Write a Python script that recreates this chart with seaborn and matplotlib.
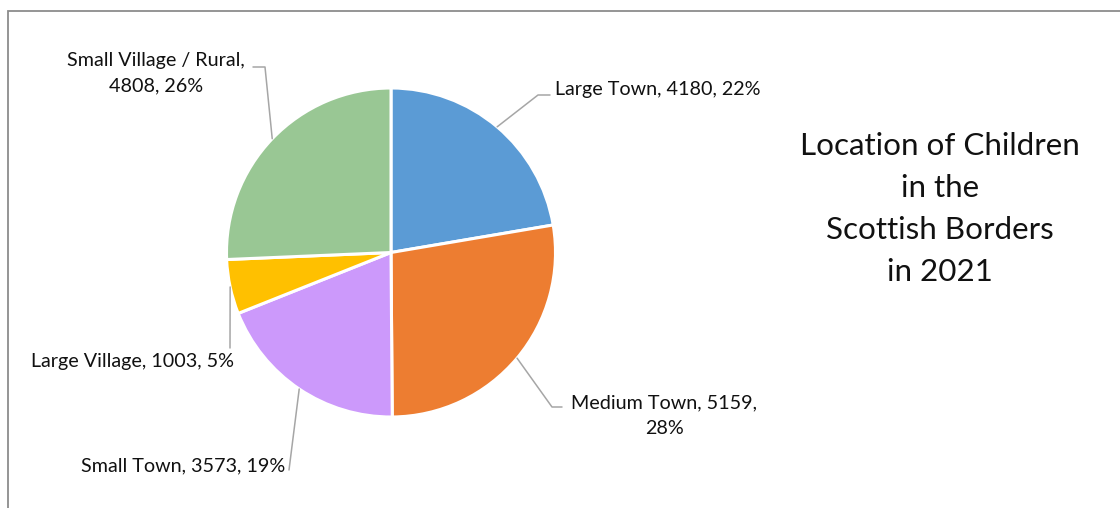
"""Location of children in the Scottish Borders, 2021 - pie chart with leader-line labels."""
import numpy as np
import matplotlib
matplotlib.use("Agg")
import matplotlib.pyplot as plt
import seaborn as sns

categories = ["Large Town", "Medium Town", "Small Town", "Large Village", "Small Village / Rural"]
children = [4180, 5159, 3573, 1003, 4808]
colours = ["#5B9BD5", "#ED7D31", "#CC99FB", "#FFC000", "#99C794"]
title_lines = ["Location of Children", "in the", "Scottish Borders", "in 2021"]

W, H = 1120, 508
CX, CY, R = 391, 252.5, 164.5
INK = "#111111"
LEAD = "#a6a6a6"

sns.set_theme(style="white")
plt.rcParams["font.family"] = ["Lato", "DejaVu Sans"]


def Y(y):
    return H - y


# label layout: elbow point(s) of the leader, text anchor, alignment
layout = {
    "Large Town": dict(path=[(538, 95), (550, 95)], txt=(555, 89), ha="left"),
    "Medium Town": dict(path=[(552, 407), (562, 407)], txt=(664, 416), ha="center"),
    "Small Town": dict(path=[(289, 470)], txt=(285, 466), ha="right"),
    "Large Village": dict(path=[(230, 348)], txt=(234, 362), ha="right"),
    "Small Village / Rural": dict(path=[(265, 67), (253, 67)], txt=(156, 73), ha="center"),
}

fig = plt.figure(figsize=(W / 100, H / 100), dpi=100)
ax = fig.add_axes([0, 0, 1, 1])

wedges, _ = ax.pie(children, colors=colours, startangle=90, counterclock=False,
                   center=(CX, Y(CY)), radius=R, frame=True,
                   wedgeprops=dict(edgecolor="white", linewidth=2.2))
ax.set_xlim(0, W)
ax.set_ylim(0, H)
ax.set_aspect("equal")
ax.axis("off")

# chart frame (cut off at right and bottom in the source)
ax.plot([8, 8, W + 10], [Y(H + 10), Y(11), Y(11)], color="#8c8c8c", lw=1.3,
        solid_joinstyle="miter", clip_on=False)

total = sum(children)
for w, cat, val in zip(wedges, categories, children):
    mid = np.deg2rad((w.theta1 + w.theta2) / 2)
    sx, sy = CX + R * np.cos(mid), Y(CY) + R * np.sin(mid)
    lay = layout[cat]
    xs = [sx] + [p[0] for p in lay["path"]]
    ys = [sy] + [Y(p[1]) for p in lay["path"]]
    ax.plot(xs, ys, color=LEAD, lw=1.1)
    pct = round(100 * val / total)
    if cat == "Medium Town":
        s = f"{cat}, {val},\n{pct}%"
    elif cat == "Small Village / Rural":
        s = f"{cat},\n{val}, {pct}%"
    else:
        s = f"{cat}, {val}, {pct}%"
    tx, ty = lay["txt"]
    ax.text(tx, Y(ty), s, ha=lay["ha"], va="center", fontsize=14.2, color=INK,
            multialignment="center", linespacing=1.6)

ax.text(940, Y(209), "\n".join(title_lines), ha="center", va="center", fontsize=22.6,
        color=INK, multialignment="center", linespacing=1.62)

fig.savefig("out.png", dpi=100, facecolor="white")
